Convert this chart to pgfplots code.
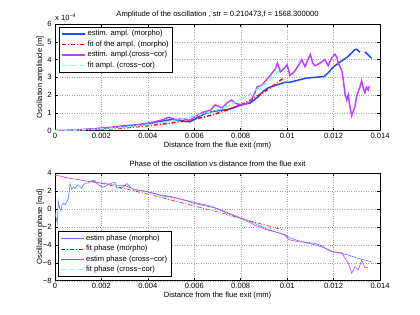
\documentclass[border=0pt]{standalone}
\usepackage{pgfplots}
\pgfplotsset{compat=1.18}
\usepackage{fontspec}
\setmainfont{Liberation Sans}
\definecolor{mblue}{rgb}{0.12,0.3,1}
\definecolor{mblue2}{rgb}{0.35,0.47,1}
\definecolor{mred}{rgb}{1,0,0}
\definecolor{mpurple}{rgb}{0.75,0.25,1}
\definecolor{mcyan}{rgb}{0.45,1,0.88}
\newcommand{\fs}{\fontsize{7.6}{8.6}\selectfont}
\pgfplotsset{
  every axis title shift=0pt,
  mystyle/.style={
    scale only axis, width=325bp,
    xmin=0, xmax=0.014,
    xtick={0,0.002,0.004,0.006,0.008,0.01,0.012,0.014},
    xticklabels={0,0.002,0.004,0.006,0.008,0.01,0.012,0.014},
    scaled x ticks=false, scaled y ticks=false,
    tick align=inside, tick pos=both, major tick length=3bp,
    grid=major, major grid style={dotted, gray!70, line width=0.4pt},
    axis line style={line width=0.6pt},
    every tick/.style={black, line width=0.5pt},
    font=\fs,
    tick label style={font=\fs},
    xticklabel style={yshift=1bp},
    xlabel={Distance from the flue exit (mm)},
    xlabel style={at={(axis description cs:0.5,-0.137)}, anchor=center},
    title style={anchor=center},
    legend cell align=left,
    legend style={font=\fs, draw=black, line width=0.5pt, inner xsep=2bp, inner ysep=1.2bp, row sep=-0.5bp},
    legend image code/.code={\draw[mark repeat=2,mark phase=2,#1] plot coordinates {(0bp,0bp) (11.5bp,0bp) (23bp,0bp)};},
    unbounded coords=jump,
  }
}
\begin{document}
\begin{tikzpicture}
\path[use as bounding box] (0,0) rectangle (420bp,315bp);
% top axis
\begin{axis}[mystyle,
  at={(55bp,184.3bp)}, anchor=south west, height=106.7bp,
  ymin=0, ymax=6, ytick={0,1,2,3,4,5,6}, yticklabels={0,1,2,3,4,5,6},
  ylabel={Oscillation amplitude [m]},
  ylabel style={at={(axis description cs:-0.046,0.5)}, anchor=center},
  title={Amplitude of the oscillation , str = 0.210473,f = 1568.300000},
  title style={at={(axis description cs:0.5,1.084)}},
  legend style={at={(axis description cs:0.012,0.972)}, anchor=north west},
  extra description/.code={\node[anchor=south west, inner sep=0pt, font=\fs] at (0,1.03) {x 10\textsuperscript{−4}};},
]
\addplot[mblue, line width=1.5pt] coordinates {
(0,0) (0.0005,0.01) (0.001,0.04) (0.0015,0.08) (0.002,0.13) (0.0025,0.18) (0.003,0.24) (0.0035,0.30) (0.004,0.38) (0.0045,0.52) (0.005,0.62) (0.0053,0.60) (0.0056,0.52) (0.0058,0.50) (0.006,0.62) (0.0062,0.80) (0.0065,0.98) (0.0068,1.08) (0.007,1.12) (0.0074,1.18) (0.0077,1.30) (0.008,1.45) (0.0084,1.55) (0.0087,1.85) (0.009,2.25) (0.0092,2.42) (0.0095,2.55) (0.0099,2.72) (0.0101,2.72) (0.0105,2.85) (0.0108,2.95) (0.0112,3.0) (0.0116,3.05) (0.0118,3.3) (0.012,3.6) (0.0123,3.88) (0.0126,4.15) (0.0128,4.4) (0.0129,4.55) (0.013,4.58) (0.0131,4.45) (0.01315,4.42) (0.01325,nan) (0.01335,4.44) (0.0135,4.25) (0.01364,4.07)
};
\addlegendentry{estim. ampl. (morpho)}
\addplot[mred, line width=1.5pt, dash pattern=on 4bp off 2bp on 1bp off 2bp] coordinates {
(0,0) (0.001,0.03) (0.002,0.08) (0.003,0.16) (0.004,0.28) (0.005,0.43) (0.006,0.64) (0.0067,0.86) (0.007,0.98) (0.0075,1.2) (0.008,1.45) (0.0085,1.78) (0.009,2.17) (0.0095,2.62) (0.0098,2.92)
};
\addlegendentry{fit of the ampl. (morpho)}
\addplot[mpurple, line width=1.5pt] coordinates {
(0,0) (0.0005,0.01) (0.001,0.05) (0.0015,0.09) (0.002,0.14) (0.0025,0.2) (0.003,0.28) (0.0035,0.33) (0.004,0.42) (0.0043,0.5) (0.0046,0.6) (0.0049,0.75) (0.0052,0.62) (0.0055,0.68) (0.0058,0.58) (0.0061,0.85) (0.0064,1.05) (0.0067,1.15) (0.0069,1.45) (0.0072,1.28) (0.0074,1.55) (0.0076,1.72) (0.0078,1.52) (0.0081,1.45) (0.0084,1.62) (0.0086,2.1) (0.0087,2.45) (0.0089,2.55) (0.0091,2.85) (0.0093,3.15) (0.0095,3.5) (0.00958,3.8) (0.00965,3.55) (0.0097,3.3) (0.0099,3.55) (0.01,3.7) (0.01012,3.1) (0.0103,3.3) (0.0105,3.7) (0.01063,4.0) (0.01077,3.6) (0.0109,4.0) (0.011,4.3) (0.0111,3.8) (0.0112,3.65) (0.01141,3.8) (0.01163,4.0) (0.01177,3.65) (0.01192,4.1) (0.01206,4.3) (0.01215,4.1) (0.0122,3.79) (0.01235,3.41) (0.01242,2.85) (0.01249,2.1) (0.01257,1.73) (0.01263,2.0) (0.0127,1.4) (0.01278,0.85) (0.01285,1.1) (0.01292,1.36) (0.01299,1.91) (0.01306,2.2) (0.01314,2.47) (0.01321,2.8) (0.01328,2.4) (0.01335,2.15) (0.01342,2.45) (0.01349,2.3) (0.01354,2.5)
};
\addlegendentry{estim. ampl.(cross−cor)}
\addplot[mcyan, line width=1.5pt, dash pattern=on 4bp off 2bp on 1bp off 2bp] coordinates {
(0,0) (0.001,0.04) (0.002,0.1) (0.003,0.2) (0.004,0.34) (0.005,0.53) (0.006,0.8) (0.007,1.18) (0.0075,1.43) (0.008,1.75) (0.0085,2.13) (0.009,2.6) (0.0095,3.18) (0.0098,3.58)
};
\addlegendentry{fit ampl. (cross−cor)}
\end{axis}
% bottom axis
\begin{axis}[mystyle,
  at={(55bp,34.3bp)}, anchor=south west, height=107.4bp,
  ymin=-8, ymax=4, ytick={-8,-6,-4,-2,0,2,4}, yticklabels={−8,−6,−4,−2,0,2,4},
  ylabel={Oscillation phase [rad]},
  ylabel style={at={(axis description cs:-0.046,0.5)}, anchor=center},
  title={Phase of the oscillation vs distance from the flue exit},
  title style={at={(axis description cs:0.5,1.084)}},
  legend style={at={(axis description cs:0.01,0.037)}, anchor=south west},
]
\addplot[mblue2, line width=0.6pt] coordinates {
(0,-0.4) (0.00005,-1.0) (0.0001,-1.6) (0.00014,0.9) (0.0002,0.1) (0.00026,-0.2) (0.0003,0.4) (0.00036,0.65) (0.00045,0.5) (0.0005,0.85) (0.00057,1.1) (0.00065,2.85) (0.00072,2.2) (0.0008,2.5) (0.00086,2.3) (0.00093,2.6) (0.001,2.7) (0.00108,2.5) (0.00115,2.3) (0.0012,2.6) (0.0013,2.9) (0.00144,2.9) (0.00151,3.07) (0.00165,3.25) (0.00175,3.0) (0.00187,2.7) (0.002,2.55) (0.00208,2.45) (0.0022,2.6) (0.00237,2.85) (0.00258,3.0) (0.00266,2.4) (0.00287,2.3) (0.00295,2.5) (0.0031,2.85) (0.00337,2.15) (0.0038,2.05) (0.004,1.9) (0.00423,1.77) (0.0045,1.55) (0.00481,1.4) (0.0052,1.25) (0.00553,1.05) (0.006,0.75) (0.00625,0.6) (0.00668,0.35) (0.007,0.05) (0.0074,-0.35) (0.008,-1.0) (0.0085,-1.5) (0.00883,-1.85) (0.00905,-2.15) (0.0095,-2.55) (0.0099,-2.85) (0.0101,-3.2) (0.0105,-3.55) (0.0112,-4.0) (0.01163,-4.35) (0.01192,-4.7) (0.0123,-4.95) (0.01263,-5.13) (0.013,-5.45) (0.01321,-5.6) (0.01364,-5.9)
};
\addlegendentry{estim phase (morpho)}
\addplot[mred, line width=0.6pt, dash pattern=on 4bp off 2bp on 1bp off 2bp] coordinates {
(0.0016,3.1) (0.003,2.3) (0.0045,1.35) (0.006,0.35) (0.0075,-0.65) (0.009,-1.75) (0.0098,-2.3)
};
\addlegendentry{fit phase (morpho)}
\addplot[mpurple, line width=0.6pt] coordinates {
(0,3.8) (0.0003,3.65) (0.0006,3.45) (0.001,3.3) (0.0014,3.1) (0.0017,3.0) (0.002,2.9) (0.0025,2.75) (0.0028,2.6) (0.003,2.65) (0.0033,2.3) (0.0036,2.1) (0.004,1.95) (0.0045,1.6) (0.005,1.4) (0.0055,1.05) (0.006,0.65) (0.0065,0.35) (0.0068,0.2) (0.0071,-0.1) (0.0074,-0.45) (0.0078,-0.85) (0.008,-1.05) (0.0083,-1.35) (0.0086,-1.8) (0.0088,-1.97) (0.0091,-2.3) (0.0095,-2.55) (0.0099,-2.9) (0.01005,-3.4) (0.01048,-3.64) (0.0112,-3.82) (0.0115,-4.1) (0.01163,-4.38) (0.01192,-4.76) (0.0122,-4.85) (0.01235,-4.87) (0.01249,-5.5) (0.01263,-6.05) (0.0127,-6.5) (0.01278,-7.17) (0.01292,-6.43) (0.01306,-6.8) (0.01321,-5.7) (0.01328,-6.1) (0.01335,-6.6) (0.01342,-6.5) (0.01349,-6.6)
};
\addlegendentry{estim phase (cross−cor)}
\addplot[mcyan, line width=0.6pt, dash pattern=on 4bp off 2bp on 1bp off 2bp] coordinates {
(0.0017,3.2) (0.003,2.45) (0.0045,1.5) (0.006,0.45) (0.0075,-0.75) (0.009,-1.95) (0.0098,-2.55)
};
\addlegendentry{fit phase (cross−cor)}
\end{axis}
\end{tikzpicture}
\end{document}
